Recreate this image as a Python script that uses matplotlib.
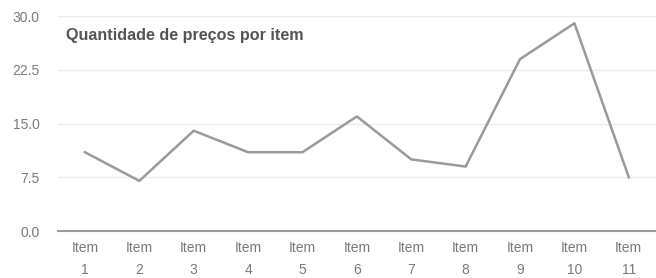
import matplotlib
matplotlib.use("Agg")
import matplotlib.pyplot as plt

plt.rcParams["font.family"] = ["Liberation Sans", "DejaVu Sans"]

items = ["Item\n1", "Item\n2", "Item\n3", "Item\n4", "Item\n5", "Item\n6",
         "Item\n7", "Item\n8", "Item\n9", "Item\n10", "Item\n11"]
quantidade = [11, 7, 14, 11, 11, 16, 10, 9, 24, 29, 7.5]
y_ticks = [0.0, 7.5, 15.0, 22.5, 30.0]

fig = plt.figure(figsize=(6.56, 2.78), dpi=100)
ax = fig.add_axes([0.088, 0.169, 0.912, 0.773])

x = range(len(items))
ax.plot(x, quantidade, color="#9a9a9a", linewidth=1.8, zorder=3)

ax.set_xlim(-0.5, len(items) - 0.5)
ax.set_ylim(0, 30)
ax.set_yticks(y_ticks)
ax.set_yticklabels([f"{v:.1f}" for v in y_ticks])
ax.set_xticks(list(x))
ax.set_xticklabels(items, linespacing=1.75)

ax.grid(axis="y", color="#ececec", linewidth=1.0)
ax.set_axisbelow(True)
for side in ["top", "right", "left"]:
    ax.spines[side].set_visible(False)
ax.spines["bottom"].set_color("#9a9a9a")
ax.spines["bottom"].set_linewidth(1.5)
ax.tick_params(axis="both", length=0, colors="#7a7a7a", labelsize=10)
ax.tick_params(axis="y", pad=13)
ax.tick_params(axis="x", pad=7)

ax.text(0.014, 0.91, "Quantidade de preços por item", transform=ax.transAxes,
        fontsize=11.6, fontweight="bold", color="#555555", va="center")

fig.savefig("out.png", dpi=100)
plt.close(fig)
